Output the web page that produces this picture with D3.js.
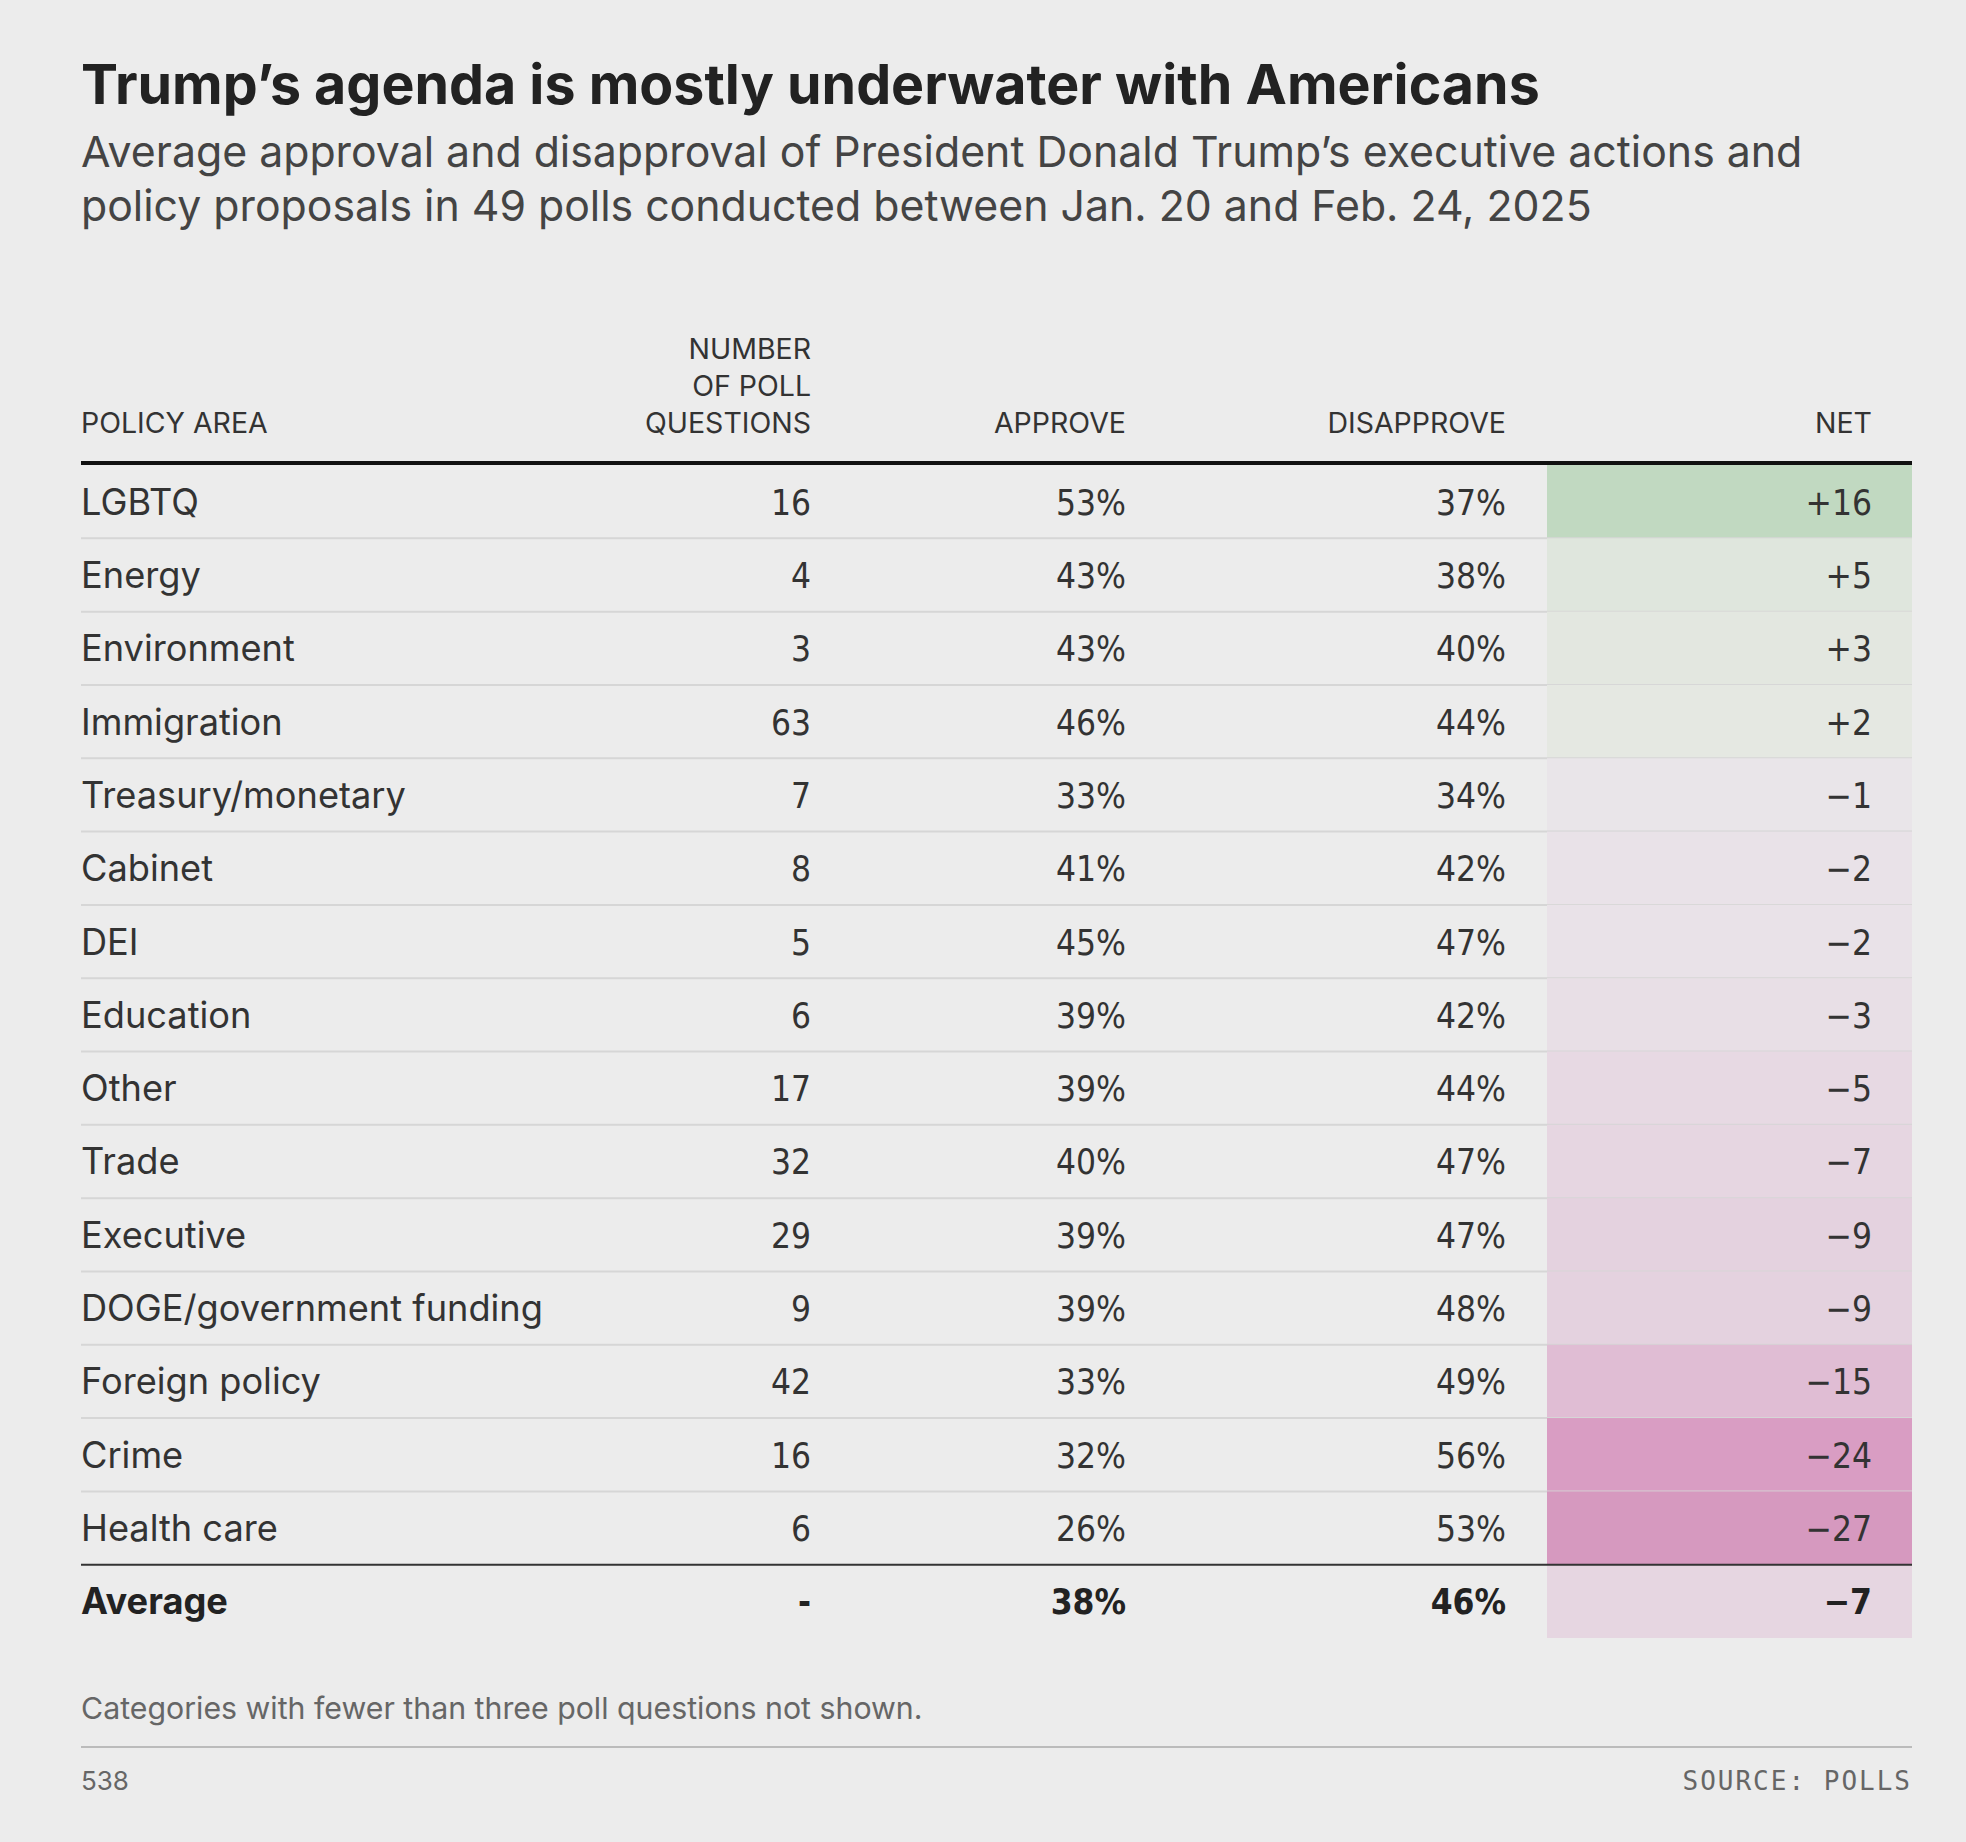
<!DOCTYPE html>
<html>
<head>
<meta charset="utf-8">
<script src="https://cdn.jsdelivr.net/npm/d3@7"></script>
<style>
  body { margin: 0; background: #ececec; }
  svg { display: block; }
  .num { font-family: "DejaVu Sans Condensed", "Liberation Sans Narrow", "Roboto", sans-serif; font-stretch: condensed; }
</style>
</head>
<body>
<svg id="chart"></svg>
<script>
var categories = ["LGBTQ", "Energy", "Environment", "Immigration", "Treasury/monetary", "Cabinet", "DEI",
    "Education", "Other", "Trade", "Executive", "DOGE/government funding", "Foreign policy", "Crime", "Health care"];
var questions = [16, 4, 3, 63, 7, 8, 5, 6, 17, 32, 29, 9, 42, 16, 6];
var approve = [53, 43, 43, 46, 33, 41, 45, 39, 39, 40, 39, 39, 33, 32, 26];
var disapprove = [37, 38, 40, 44, 34, 42, 47, 42, 44, 47, 47, 48, 49, 56, 53];
var net = [16, 5, 3, 2, -1, -2, -2, -3, -5, -7, -9, -9, -15, -24, -27];
var average = {approve: 38, disapprove: 46, net: -7};

var W = 1966, H = 1842, left = 81, right = 1912;
var svg = d3.select("#chart").attr("width", W).attr("height", H);

var color = d3.scaleLinear()
    .domain([-27, -24, -15, -9, -5, -1, 0, 2, 5, 16])
    .range(["#d699bf", "#d99dc3", "#e0bdd4", "#e4d2df", "#e7d9e3", "#e9e5e9", "#eae8ea", "#e5e8e2", "#dfe6dd", "#c1d9c1"])
    .clamp(true);

var fmtNet = function (d) { return d > 0 ? "+" + d : "\u2212" + Math.abs(d); };

// title
svg.append("text").attr("x", left).attr("y", 104)
    .style("font-family", "Inter, 'Open Sans', sans-serif").style("font-weight", 700)
    .style("font-size", "55.5px").style("fill", "#222")
    .text("Trump\u2019s agenda is mostly underwater with Americans");
var sub = ["Average approval and disapproval of President Donald Trump\u2019s executive actions and",
    "policy proposals in 49 polls conducted between Jan. 20 and Feb. 24, 2025"];
svg.selectAll(".sub").data(sub).enter().append("text")
    .attr("x", left).attr("y", function (d, i) { return 167 + i * 54; })
    .style("font-family", "Inter, 'Open Sans', sans-serif").style("font-size", "42.8px").style("fill", "#444")
    .text(function (d) { return d; });

// columns
var colX = {q: 811, a: 1126, d: 1506, n: 1872};
var header = svg.append("g").style("font-family", "Inter, 'Open Sans', sans-serif")
    .style("font-size", "28.5px").style("fill", "#333");
header.append("text").attr("x", left).attr("y", 433).text("POLICY AREA");
["NUMBER", "OF POLL", "QUESTIONS"].forEach(function (t, i) {
    header.append("text").attr("x", colX.q).attr("y", 359 + i * 37).attr("text-anchor", "end").text(t);
});
header.append("text").attr("x", colX.a).attr("y", 433).attr("text-anchor", "end").text("APPROVE");
header.append("text").attr("x", colX.d).attr("y", 433).attr("text-anchor", "end").text("DISAPPROVE");
header.append("text").attr("x", colX.n).attr("y", 433).attr("text-anchor", "end").text("NET");

var y = d3.scaleBand().domain(d3.range(categories.length + 1)).range([465, 1638]);
var rh = y.bandwidth();

var rows = svg.selectAll(".row").data(categories).enter().append("g")
    .attr("transform", function (d, i) { return "translate(0," + y(i) + ")"; });
rows.append("rect").attr("x", 1547).attr("width", right - 1547).attr("height", rh)
    .style("fill", function (d, i) { return color(net[i]); });
rows.filter(function (d, i) { return i < categories.length - 1; })
    .append("line").attr("x1", left).attr("x2", right).attr("y1", rh).attr("y2", rh)
    .style("stroke", "#d6d6d6").style("stroke-width", 2);
rows.append("text").attr("x", left).attr("y", rh / 2 + 13)
    .style("font-family", "Inter, 'Open Sans', sans-serif").style("font-size", "36.2px").style("fill", "#333")
    .text(function (d) { return d; });
function numText(sel, x, f) {
    sel.append("text").attr("class", "num").attr("x", x).attr("y", rh / 2 + 13).attr("text-anchor", "end")
        .style("font-size", "35px").style("fill", "#333").text(f);
}
numText(rows, colX.q, function (d, i) { return questions[i]; });
numText(rows, colX.a, function (d, i) { return approve[i] + "%"; });
numText(rows, colX.d, function (d, i) { return disapprove[i] + "%"; });
numText(rows, colX.n, function (d, i) { return fmtNet(net[i]); });

// average row
var avg = svg.append("g").attr("transform", "translate(0," + y(categories.length) + ")");
avg.append("rect").attr("x", 1547).attr("width", right - 1547).attr("height", rh).style("fill", color(average.net));
avg.append("text").attr("x", left).attr("y", rh / 2 + 13)
    .style("font-family", "Inter, 'Open Sans', sans-serif").style("font-size", "36.2px").style("font-weight", 700)
    .style("fill", "#222").text("Average");
[[colX.q, "-"], [colX.a, average.approve + "%"], [colX.d, average.disapprove + "%"], [colX.n, fmtNet(average.net)]]
    .forEach(function (c) {
        avg.append("text").attr("class", "num").attr("x", c[0]).attr("y", rh / 2 + 13).attr("text-anchor", "end")
            .style("font-size", "35px").style("font-weight", 700).style("fill", "#222").text(c[1]);
    });

// rules
svg.append("line").attr("x1", left).attr("x2", right).attr("y1", 463).attr("y2", 463)
    .style("stroke", "#111").style("stroke-width", 4);
svg.append("line").attr("x1", left).attr("x2", right).attr("y1", y(categories.length)).attr("y2", y(categories.length))
    .style("stroke", "#333").style("stroke-width", 2);

// footer
svg.append("text").attr("x", left).attr("y", 1719)
    .style("font-family", "Inter, 'Open Sans', sans-serif").style("font-size", "30.3px").style("fill", "#666")
    .text("Categories with fewer than three poll questions not shown.");
svg.append("line").attr("x1", left).attr("x2", right).attr("y1", 1747).attr("y2", 1747)
    .style("stroke", "#bbb").style("stroke-width", 2);
svg.append("text").attr("x", left).attr("y", 1790)
    .style("font-family", "Inter, 'Open Sans', sans-serif").style("font-size", "26px").style("fill", "#666").text("538");
svg.append("text").attr("x", right).attr("y", 1790).attr("text-anchor", "end")
    .style("font-family", "'DejaVu Sans Mono', 'Liberation Mono', monospace").style("font-size", "26px")
    .style("letter-spacing", "2px").style("fill", "#666").text("SOURCE: POLLS");
</script>
</body>
</html>
